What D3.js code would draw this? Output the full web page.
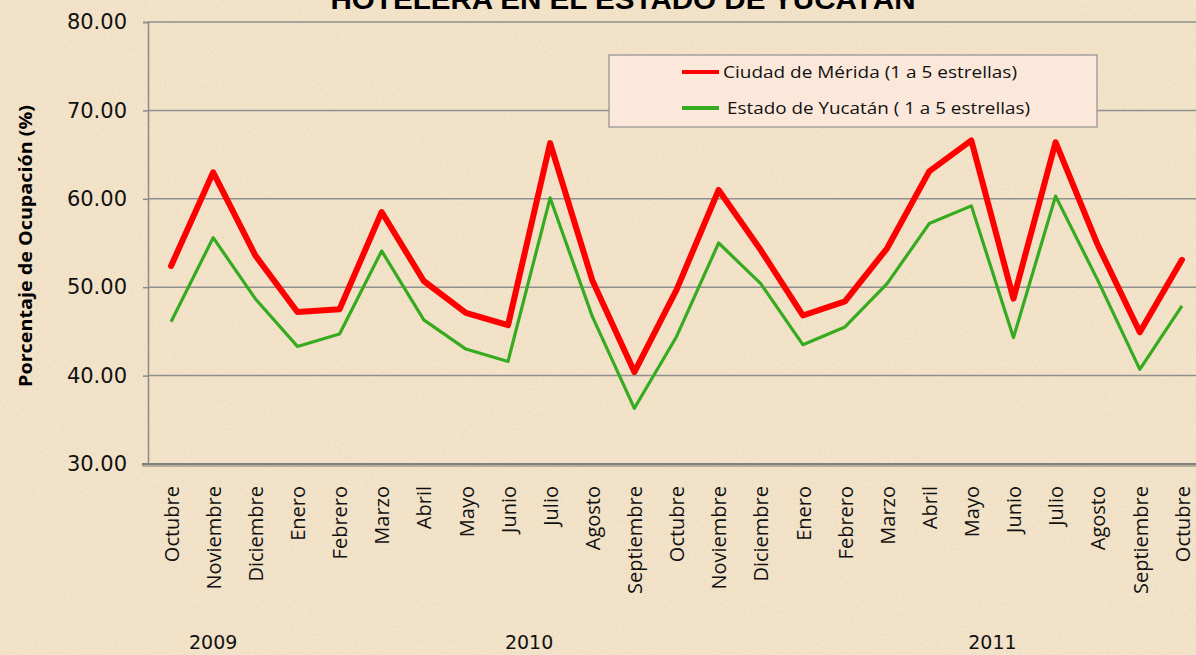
<!DOCTYPE html>
<html>
<head>
<meta charset="utf-8">
<script src="https://cdn.jsdelivr.net/npm/d3@7"></script>
<style>
  body { margin: 0; background: #f4e4ca; overflow: hidden; }
  svg { display: block; }
</style>
</head>
<body>
<div id="chart"></div>
<script>
/* CONSTANTS AND GLOBALS */
const width = 1196,
  height = 655,
  margin = { top: 22, bottom: 191, left: 148, right: -7 };

/* DATA */
const months = ["Octubre", "Noviembre", "Diciembre", "Enero", "Febrero", "Marzo", "Abril", "Mayo",
  "Junio", "Julio", "Agosto", "Septiembre", "Octubre", "Noviembre", "Diciembre", "Enero",
  "Febrero", "Marzo", "Abril", "Mayo", "Junio", "Julio", "Agosto", "Septiembre", "Octubre"];

const merida = [52.4, 63.0, 53.6, 47.2, 47.5, 58.5, 50.7, 47.1, 45.7, 66.3, 50.8, 40.4, 49.7,
  61.0, 54.2, 46.8, 48.4, 54.4, 63.1, 66.6, 48.7, 66.4, 54.8, 44.9, 53.1];

const yucatan = [46.1, 55.6, 48.7, 43.3, 44.7, 54.1, 46.3, 43.0, 41.6, 60.1, 46.7, 36.3, 44.4,
  55.0, 50.4, 43.5, 45.5, 50.4, 57.2, 59.2, 44.3, 60.3, 50.8, 40.7, 47.9];

const yTicks = [30, 40, 50, 60, 70, 80];
const yearLabels = ["2009", "2010", "2011"];
const yearAt = [1, 8.5, 19.5]; // category index the year label sits under

const seriesNames = ["Ciudad de Mérida (1 a 5 estrellas)", "Estado de Yucatán ( 1 a 5 estrellas)"];

/* SVG */
const svg = d3.select("#chart")
  .append("svg")
  .attr("width", width)
  .attr("height", height);

// paper texture
const defs = svg.append("defs");
const f = defs.append("filter").attr("id", "paper").attr("x", 0).attr("y", 0)
  .attr("width", "100%").attr("height", "100%");
f.append("feTurbulence").attr("type", "fractalNoise").attr("baseFrequency", "0.9 0.35")
  .attr("numOctaves", 3).attr("seed", 4).attr("result", "noise");
f.append("feColorMatrix").attr("type", "matrix")
  .attr("values", "0 0 0 0 0.6  0 0 0 0 0.5  0 0 0 0 0.38  0 0 0 -1.1 0.75");

svg.append("rect").attr("width", width).attr("height", height).attr("fill", "#f4e4ca");
svg.append("rect").attr("width", width).attr("height", height)
  .attr("filter", "url(#paper)").attr("opacity", 0.3);

/* SCALES */
const xScale = d3.scalePoint()
  .domain(d3.range(months.length))
  .range([margin.left + 2, width - margin.right])
  .padding(0.5);

const yScale = d3.scaleLinear()
  .domain([30, 80])
  .range([height - margin.bottom, margin.top]);

/* GRID + Y AXIS */
const yAxis = svg.append("g")
  .attr("class", "y-axis")
  .attr("transform", `translate(${margin.left}, 0)`)
  .call(d3.axisLeft(yScale)
    .tickValues(yTicks)
    .tickFormat(d3.format(".2f"))
    .tickSizeOuter(0)
    .tickSize(5)
    .tickPadding(16));

yAxis.select(".domain").attr("stroke", "#8a8a8a").attr("stroke-width", 1.5);
yAxis.selectAll(".tick line").attr("stroke", "#8a8a8a").attr("stroke-width", 1.5);
yAxis.selectAll(".tick text")
  .attr("font-family", "DejaVu Sans")
  .attr("font-size", 21)
  .attr("fill", "#111");

svg.append("g")
  .attr("class", "grid")
  .selectAll("line")
  .data(yTicks.filter(d => d > 30))
  .join("line")
  .attr("x1", margin.left)
  .attr("x2", width)
  .attr("y1", d => yScale(d))
  .attr("y2", d => yScale(d))
  .attr("stroke", "#8f8f8f")
  .attr("stroke-width", 1.5);

// bottom axis line with soft shadow
svg.append("line")
  .attr("x1", margin.left - 6).attr("x2", width)
  .attr("y1", yScale(30) + 2).attr("y2", yScale(30) + 2)
  .attr("stroke", "#b8ab98").attr("stroke-width", 2);
svg.append("line")
  .attr("x1", margin.left - 6).attr("x2", width)
  .attr("y1", yScale(30)).attr("y2", yScale(30))
  .attr("stroke", "#7f7f7f").attr("stroke-width", 2);

/* X AXIS LABELS */
const xAxis = svg.append("g")
  .attr("class", "x-axis")
  .attr("transform", `translate(0, ${yScale(30)})`)
  .call(d3.axisBottom(xScale).tickSize(0).tickFormat(i => months[i]));

xAxis.select(".domain").remove();
xAxis.selectAll(".tick text")
  .attr("font-family", "Open Sans")
  .attr("font-size", 20)
  .attr("fill", "#111")
  .attr("text-anchor", "end")
  .attr("transform", "rotate(-90)")
  .attr("x", -22)
  .attr("y", 0)
  .attr("dy", "0.36em");

// year labels
svg.append("g")
  .selectAll("text")
  .data(yearLabels)
  .join("text")
  .attr("x", (d, i) => xScale(0) + xScale.step() * yearAt[i])
  .attr("y", 649)
  .attr("text-anchor", "middle")
  .attr("font-family", "DejaVu Sans")
  .attr("font-size", 19)
  .attr("fill", "#111")
  .text(d => d);

/* LINES */
const lineFunc = d3.line()
  .x((d, i) => xScale(i))
  .y(d => yScale(d));

svg.append("path")
  .datum(yucatan)
  .attr("fill", "none")
  .attr("stroke", "#36ab1f")
  .attr("stroke-width", 3.2)
  .attr("stroke-linejoin", "round")
  .attr("d", lineFunc);

svg.append("path")
  .datum(merida)
  .attr("fill", "none")
  .attr("stroke", "#ff0000")
  .attr("stroke-width", 6)
  .attr("stroke-linejoin", "round")
  .attr("stroke-linecap", "round")
  .attr("d", lineFunc);

/* TITLE */
svg.append("text")
  .attr("x", 623)
  .attr("y", 9)
  .attr("text-anchor", "middle")
  .attr("font-family", "Liberation Sans, Arial")
  .attr("font-weight", "bold")
  .attr("font-size", 28)
  .attr("textLength", 585)
  .attr("lengthAdjust", "spacingAndGlyphs")
  .attr("fill", "#000")
  .text("HOTELERA EN EL ESTADO DE YUCATÁN");

/* Y TITLE */
svg.append("text")
  .attr("transform", "translate(32, 246) rotate(-90)")
  .attr("text-anchor", "middle")
  .attr("font-family", "Open Sans")
  .attr("font-weight", "bold")
  .attr("font-size", 17)
  .attr("textLength", 282)
  .attr("lengthAdjust", "spacingAndGlyphs")
  .attr("fill", "#000")
  .text("Porcentaje de Ocupación (%)");

/* LEGEND */
const legend = svg.append("g").attr("transform", "translate(609, 55)");
legend.append("rect")
  .attr("width", 488).attr("height", 72)
  .attr("fill", "#fbe8da")
  .attr("stroke", "#8f8f8f").attr("stroke-width", 1.2);

const legendItems = [
  { name: seriesNames[0], color: "#ff0000", w: 4, len: 294, tx: 114 },
  { name: seriesNames[1], color: "#36ab1f", w: 4, len: 303, tx: 118 }
];
const item = legend.selectAll(".item")
  .data(legendItems)
  .join("g")
  .attr("class", "item")
  .attr("transform", (d, i) => `translate(0, ${17 + i * 36})`);
item.append("line")
  .attr("x1", 73).attr("x2", 110)
  .attr("stroke", d => d.color)
  .attr("stroke-width", d => d.w);
item.append("text")
  .attr("x", d => d.tx)
  .attr("dy", "0.36em")
  .attr("font-family", "Open Sans")
  .attr("font-size", 17)
  .attr("textLength", d => d.len)
  .attr("lengthAdjust", "spacingAndGlyphs")
  .attr("fill", "#111")
  .text(d => d.name);
</script>
</body>
</html>
